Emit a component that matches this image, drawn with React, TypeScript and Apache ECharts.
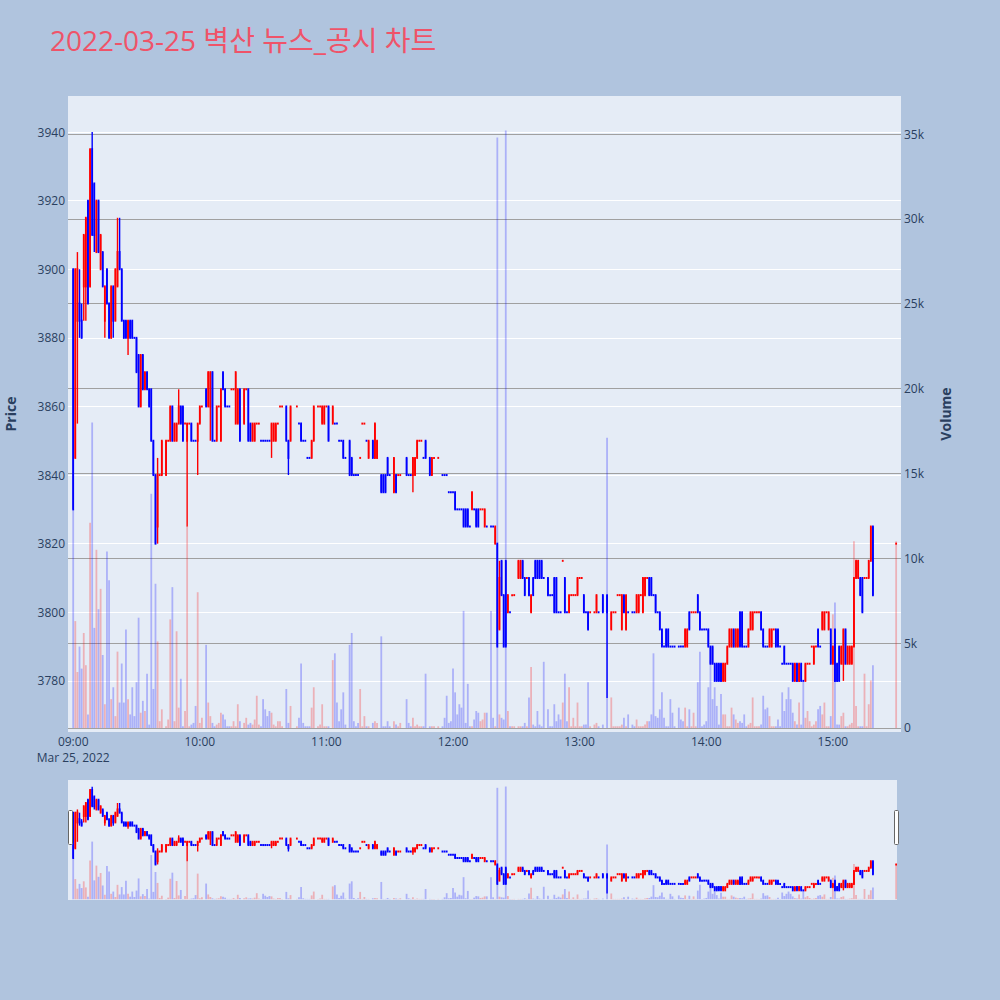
import React, { useEffect, useRef } from 'react';
import * as echarts from 'echarts';

// [open, close, low, high, volume] per minute; null = no trade in that minute
type Bar = [number, number, number, number, number] | null;

const bars0900: Bar[] = [
  [3900,3830,3830,3900,12900],[3845,3900,3845,3900,6300],[3885,3900,3855,3905,3300],[3890,3885,3880,3900,4800],
  [3885,3880,3880,3890,3500],[3895,3910,3885,3910,5600],[3895,3915,3885,3915,3700],[3920,3890,3890,3920,800],
  [3895,3935,3895,3935,12100],[3935,3910,3910,3940,18000],[3925,3910,3905,3925,5900],[3905,3920,3905,3920,10500],
  [3920,3905,3905,3920,7000],[3900,3910,3900,3910,8200],[3905,3895,3895,3905,4300],[3885,3895,3880,3895,1400],
  [3900,3890,3890,3900,10400],[3890,3880,3880,3890,8700],[3880,3895,3880,3895,1700],[3895,3885,3880,3895,2400],
  [3885,3900,3885,3900,700],[3895,3905,3895,3915,4500],[3905,3900,3900,3915,1500],[3900,3885,3885,3900,3800],
  [3885,3880,3880,3885,1500],[3885,3880,3880,3885,5800],[3880,3885,3875,3885,1700],[3885,3880,3880,3885,800],
  [3885,3880,3880,3885,2400],[3880,3880,3880,3880,700],[3880,3870,3870,3880,2700],[3875,3860,3860,3875,6500],
  [3860,3875,3860,3875,900],[3875,3865,3865,3875,1600],[3865,3870,3865,3870,1000],[3870,3865,3865,3870,3200],
  [3865,3860,3860,3865,200],[3865,3850,3850,3865,13800],[3850,3840,3840,3850,2300],[3840,3820,3820,3840,8500],
  [3825,3840,3820,3845,5100],[3840,3840,3840,3840,400],[3840,3850,3840,3850,1100],null,
  [3840,3850,3840,3850,100],[3850,3850,3850,3850,500],[3850,3860,3850,3860,6400],[3860,3850,3850,3860,8300],
  [3850,3855,3850,3855,400],[3850,3855,3850,3855,5700],[3855,3860,3855,3865,1200],[3860,3855,3855,3860,2900],
  [3860,3850,3850,3860,100],[3855,3855,3855,3855,1000],[3850,3855,3825,3855,11900],[3855,3855,3855,3855,100],
  [3855,3850,3850,3855,200],[3850,3850,3850,3850,300],[3850,3850,3850,3850,1300],[3850,3855,3840,3855,8000],
];

const bars1000: Bar[] = [
  [3855,3860,3855,3860,300],[3860,3860,3860,3860,600],null,[3865,3860,3860,3865,4900],
  [3860,3870,3860,3870,1500],[3860,3870,3850,3870,700],[3870,3850,3850,3870,300],[3850,3850,3850,3850,100],
  [3850,3860,3850,3860,200],[3860,3860,3860,3860,300],[3850,3865,3850,3865,900],[3870,3865,3865,3870,800],
  [3865,3860,3860,3865,500],[3860,3860,3860,3860,100],[3860,3860,3860,3860,100],[3865,3865,3865,3865,100],
  [3865,3865,3865,3865,400],[3855,3870,3855,3870,100],[3855,3865,3855,3865,1400],[3865,3850,3850,3865,400],
  null,[3855,3865,3855,3865,300],[3865,3865,3865,3865,600],[3865,3850,3850,3865,200],
  [3855,3850,3850,3855,300],[3850,3855,3850,3855,200],[3850,3855,3850,3855,500],[3855,3855,3855,3855,1900],
  [3855,3855,3855,3855,200],[3850,3850,3850,3850,100],[3850,3850,3850,3850,1700],[3850,3850,3850,3850,1100],
  [3850,3850,3850,3850,700],[3850,3850,3850,3850,1000],[3850,3855,3845,3855,900],[3850,3855,3850,3855,200],
  [3850,3855,3850,3855,100],[3855,3855,3855,3855,400],[3860,3860,3860,3860,400],[3860,3860,3860,3860,100],
  null,[3860,3850,3850,3860,2300],[3850,3845,3840,3850,300],[3850,3860,3850,3860,1300],
  null,null,[3860,3860,3860,3860,100],[3855,3855,3855,3855,600],
  [3855,3850,3850,3855,3800],[3850,3850,3850,3850,300],[3850,3850,3850,3850,100],[3845,3845,3845,3845,100],
  [3845,3845,3845,3845,100],[3845,3850,3845,3850,1200],[3850,3860,3850,3860,2400],null,
  [3860,3860,3860,3860,100],[3860,3860,3860,3860,200],[3855,3860,3855,3860,1400],[3855,3860,3855,3860,100],
];

const bars1100: Bar[] = [
  [3860,3860,3860,3860,100],[3860,3850,3850,3860,100],null,[3855,3860,3855,3860,4000],
  [3855,3855,3855,3855,4400],[3855,3855,3855,3855,1500],[3850,3850,3850,3850,400],[3850,3850,3850,3850,1100],
  [3850,3845,3845,3850,2100],[3845,3845,3845,3845,200],null,[3850,3840,3840,3850,4900],
  [3845,3840,3840,3845,5600],[3840,3840,3840,3840,400],[3840,3840,3840,3840,100],[3840,3840,3840,3840,300],
  [3845,3845,3845,3845,2300],[3855,3855,3855,3855,100],[3855,3855,3855,3855,700],[3850,3850,3850,3850,100],
  [3845,3850,3845,3850,100],null,[3850,3845,3845,3850,300],[3845,3855,3845,3855,400],
  [3845,3850,3845,3850,300],null,[3840,3835,3835,3840,5400],[3840,3835,3835,3840,100],
  [3840,3835,3835,3840,100],[3845,3840,3840,3845,400],[3840,3840,3840,3840,100],null,
  [3835,3845,3835,3845,400],[3840,3835,3835,3840,200],[3840,3840,3840,3840,100],[3840,3840,3840,3840,300],
  null,null,[3845,3840,3840,3845,1700],[3840,3840,3840,3840,300],
  [3840,3840,3840,3840,100],[3840,3845,3835,3845,600],[3840,3845,3840,3845,100],[3845,3850,3845,3850,200],
  [3850,3850,3850,3850,100],[3850,3850,3850,3850,100],[3845,3845,3845,3845,100],[3850,3845,3845,3850,3200],
  null,[3845,3840,3840,3845,100],[3840,3845,3840,3845,100],[3845,3845,3845,3845,100],
  null,[3845,3845,3845,3845,100],null,[3840,3840,3840,3840,100],
  [3840,3840,3840,3840,600],[3840,3840,3840,3840,1900],[3835,3835,3835,3835,300],[3835,3835,3835,3835,400],
];

const bars1200: Bar[] = [
  [3835,3835,3835,3835,3500],[3835,3830,3830,3835,2100],[3830,3830,3830,3830,800],[3830,3830,3830,3830,1400],
  [3830,3830,3830,3830,1200],[3830,3825,3825,3830,6900],[3830,3825,3825,3830,300],[3830,3825,3825,3830,2600],
  [3825,3825,3825,3825,100],[3830,3835,3830,3835,100],[3830,3830,3830,3830,500],[3830,3825,3825,3830,1000],
  [3830,3825,3825,3830,900],[3830,3830,3830,3830,400],[3830,3830,3830,3830,500],[3825,3830,3825,3830,900],
  [3825,3825,3825,3825,900],null,[3825,3825,3825,3825,6900],[3825,3825,3825,3825,600],
  [3820,3825,3820,3825,100],[3820,3790,3790,3820,34800],[3795,3810,3795,3815,800],[3815,3805,3805,3815,600],
  [3805,3790,3790,3805,500],[3815,3790,3790,3815,35200],[3800,3805,3800,3805,1000],[3800,3800,3800,3800,100],
  [3805,3805,3805,3805,100],[3805,3805,3805,3805,100],null,[3810,3815,3810,3815,100],
  [3810,3815,3810,3815,100],[3815,3810,3810,3815,100],[3810,3805,3805,3810,300],[3810,3810,3810,3810,100],
  [3810,3805,3805,3810,1800],[3800,3805,3800,3805,3600],[3810,3805,3805,3810,200],[3815,3810,3810,3815,100],
  [3815,3810,3810,3815,1000],[3815,3810,3810,3815,200],[3815,3810,3810,3815,100],[3810,3810,3810,3810,3900],
  null,[3810,3805,3805,3810,1100],[3805,3805,3805,3805,100],[3805,3805,3805,3805,100],
  [3810,3800,3800,3810,1400],[3810,3800,3800,3810,400],[3800,3800,3800,3800,800],[3800,3800,3800,3800,500],
  [3815,3815,3815,3815,1500],[3810,3800,3800,3810,3200],[3800,3800,3800,3800,400],[3800,3805,3800,3805,2400],
  [3805,3805,3805,3805,100],[3805,3805,3805,3805,600],[3805,3805,3805,3805,100],[3805,3810,3805,3810,1500],
];

const bars1300: Bar[] = [
  [3810,3810,3810,3810,100],[3810,3810,3810,3810,100],[3805,3800,3800,3805,200],[3800,3800,3800,3800,200],
  [3800,3795,3795,3800,2700],[3800,3800,3800,3800,100],null,[3800,3800,3800,3800,200],
  [3800,3805,3800,3805,300],[3800,3800,3800,3800,100],null,[3805,3800,3800,3805,200],
  null,[3805,3800,3775,3805,17100],null,[3795,3800,3795,3800,1800],
  [3800,3800,3800,3800,100],[3800,3800,3800,3800,100],[3805,3805,3805,3805,100],[3805,3805,3805,3805,100],
  [3795,3805,3795,3805,200],[3805,3800,3800,3805,600],[3795,3805,3795,3805,100],[3800,3800,3800,3800,800],
  null,[3800,3800,3800,3800,200],[3800,3800,3800,3800,100],[3800,3805,3800,3805,500],
  [3800,3805,3800,3805,100],[3805,3805,3805,3805,100],[3800,3810,3800,3810,100],[3805,3810,3805,3810,200],
  [3810,3810,3810,3810,400],[3810,3805,3805,3810,400],[3810,3805,3805,3810,800],[3805,3805,3805,3805,4400],
  [3805,3800,3800,3805,700],[3800,3800,3800,3800,600],[3800,3795,3795,3800,1100],[3795,3790,3790,3795,2100],
  [3790,3790,3790,3790,600],[3795,3790,3790,3795,100],[3795,3790,3790,3795,100],[3790,3790,3790,3790,1700],
  [3790,3790,3790,3790,900],[3790,3790,3790,3790,100],null,[3790,3790,3790,3790,1200],
  [3790,3790,3790,3790,500],[3790,3790,3790,3790,400],[3790,3795,3790,3795,1200],[3790,3795,3790,3795,100],
  [3800,3795,3795,3800,1100],[3800,3800,3800,3800,100],[3800,3800,3800,3800,900],[3800,3800,3800,3800,100],
  [3805,3800,3800,3805,2700],[3800,3795,3795,3800,4500],[3795,3795,3795,3795,100],[3795,3795,3795,3795,200],
];

const bars1400: Bar[] = [
  [3795,3795,3795,3795,400],[3795,3790,3790,3795,2400],[3790,3785,3785,3790,4000],[3790,3785,3785,3790,1700],
  [3785,3780,3780,3785,2400],[3785,3780,3780,3785,1300],[3785,3780,3780,3785,200],[3785,3780,3780,3785,2000],
  [3780,3785,3780,3785,800],[3780,3785,3780,3785,800],[3785,3790,3785,3790,100],[3790,3795,3790,3795,100],
  [3790,3795,3790,3795,1200],[3795,3790,3790,3795,800],[3790,3795,3790,3795,500],[3790,3795,3790,3795,300],
  [3800,3790,3790,3800,400],[3800,3790,3790,3800,300],[3790,3790,3790,3790,800],[3790,3790,3790,3790,100],
  [3790,3795,3790,3795,200],[3795,3800,3795,3800,300],[3795,3800,3795,3800,1800],[3800,3800,3800,3800,100],
  [3800,3800,3800,3800,100],[3800,3800,3800,3800,100],[3800,3795,3795,3800,200],[3795,3790,3790,3795,1900],
  [3790,3790,3790,3790,1100],[3790,3790,3790,3790,1200],[3790,3795,3790,3795,700],[3790,3795,3790,3795,100],
  [3795,3795,3795,3795,100],[3795,3790,3790,3795,100],[3795,3790,3790,3795,500],[3790,3790,3790,3790,100],
  [3785,3785,3785,3785,2100],[3790,3785,3785,3790,1000],[3785,3785,3785,3785,1700],[3785,3785,3785,3785,2400],
  [3785,3785,3785,3785,1700],[3785,3780,3780,3785,900],[3780,3785,3780,3785,400],[3785,3780,3780,3785,200],
  [3780,3785,3780,3785,1500],[3785,3780,3780,3785,200],[3780,3780,3780,3780,2800],[3780,3785,3780,3785,600],
  [3785,3785,3785,3785,1000],[3785,3785,3785,3785,400],[3790,3790,3790,3790,100],[3785,3790,3785,3790,200],
  [3790,3790,3790,3790,400],[3795,3790,3790,3795,1100],[3790,3790,3790,3790,1300],[3795,3800,3795,3800,800],
  [3795,3800,3795,3800,1500],[3800,3800,3800,3800,100],[3795,3800,3795,3800,100],[3795,3785,3785,3795,700],
];

const bars1500: Bar[] = [
  [3785,3790,3785,3790,6700],[3795,3780,3780,3795,7400],[3785,3780,3780,3785,200],[3790,3780,3780,3790,200],
  [3785,3790,3785,3790,700],[3785,3795,3780,3795,900],[3795,3785,3785,3795,100],[3785,3790,3785,3790,100],
  [3785,3790,3785,3790,200],[3785,3790,3785,3790,300],[3790,3810,3790,3810,11000],[3810,3815,3810,3815,1300],
  [3810,3815,3810,3815,100],[3810,3805,3805,3810,100],[3810,3800,3800,3810,100],[3810,3810,3810,3810,3200],
  [3810,3810,3810,3810,100],[3810,3815,3810,3815,1400],[3815,3825,3815,3825,2800],[3825,3805,3805,3825,3700],
];

// closing auction at 15:30 (minute 390)
const closingMinute = 390;
const closingBar: [number, number, number, number, number] = [3820, 3820, 3820, 3820, 11000];

const hourBlocks: Bar[][] = [bars0900, bars1000, bars1100, bars1200, bars1300, bars1400, bars1500];

const priceRange = [3765.1, 3950.5];
const volumeRange = [-236, 37240];
const minuteRange = [-2.46, 392.3];

const UP = '#ff0000';
const DOWN = '#0000ff';
const UP_VOL = 'rgba(255,0,0,0.25)';
const DOWN_VOL = 'rgba(0,0,255,0.25)';
const FONT = '"Open Sans", "Noto Sans CJK KR", sans-serif';
const AXIS_COLOR = '#2a3f5f';

function buildRows() {
  const rows: { m: number; o: number; c: number; l: number; h: number; v: number }[] = [];
  hourBlocks.forEach((block, hi) => {
    block.forEach((b, i) => {
      if (b) rows.push({ m: hi * 60 + i, o: b[0], c: b[1], l: b[2], h: b[3], v: b[4] });
    });
  });
  rows.push({ m: closingMinute, o: closingBar[0], c: closingBar[1], l: closingBar[2], h: closingBar[3], v: closingBar[4] });
  let prevClose: number | null = null;
  let lastUp = true;
  return rows.map((r) => {
    let up: boolean;
    if (r.o !== r.c) up = r.c > r.o;
    else if (prevClose !== null && r.c !== prevClose) up = r.c > prevClose;
    else up = lastUp;
    prevClose = r.c;
    lastUp = up;
    return { ...r, up };
  });
}

function fmtTime(v: number) {
  const hh = 9 + Math.floor(v / 60);
  const mm = v % 60;
  return String(hh).padStart(2, '0') + ':' + String(mm).padStart(2, '0');
}

function buildOption() {
  const rows = buildRows();
  const candleData = rows.map((r) => [r.m, r.o, r.c, r.l, r.h, r.up ? 1 : 0]);
  const volData = rows.map((r) => ({ value: [r.m, r.v], itemStyle: { color: r.up ? UP_VOL : DOWN_VOL } }));

  const renderCandle = (_params: any, api: any) => {
    const m = api.value(0);
    const o = api.value(1);
    const c = api.value(2);
    const l = api.value(3);
    const h = api.value(4);
    const col = api.value(5) === 1 ? UP : DOWN;
    const pO = api.coord([m, o]);
    const pC = api.coord([m, c]);
    const pL = api.coord([m, l]);
    const pH = api.coord([m, h]);
    const x = pO[0];
    const top = Math.min(pO[1], pC[1]);
    const bot = Math.max(pO[1], pC[1]);
    const bw = 1.8;
    const ww = 1.4;
    return {
      type: 'group',
      children: [
        { type: 'rect', shape: { x: x - ww / 2, y: pH[1], width: ww, height: Math.max(pL[1] - pH[1], 0) }, style: { fill: col } },
        { type: 'rect', shape: { x: x - bw / 2, y: top - 1, width: bw, height: bot - top + 2 }, style: { fill: col } },
      ],
    };
  };

  const candleSeries = (xi: number, yi: number) => ({
    type: 'custom',
    xAxisIndex: xi,
    yAxisIndex: yi,
    data: candleData,
    encode: { x: 0, y: [1, 2, 3, 4] },
    renderItem: renderCandle,
    clip: true,
    silent: true,
    z: 3,
  });
  const volSeries = (xi: number, yi: number) => ({
    type: 'bar',
    xAxisIndex: xi,
    yAxisIndex: yi,
    data: volData,
    barWidth: 1.8,
    silent: true,
    z: 2,
  });

  return {
    animation: false,
    backgroundColor: '#b0c4de',
    grid: [
      { left: 68, top: 96, width: 833, height: 636, show: true, backgroundColor: '#e5ecf6', borderWidth: 0 },
      { left: 68, top: 780, width: 829, height: 120, show: true, backgroundColor: '#e5ecf6', borderWidth: 0 },
    ],
    xAxis: [
      {
        type: 'value',
        gridIndex: 0,
        min: minuteRange[0],
        max: minuteRange[1],
        minInterval: 60,
        maxInterval: 60,
        axisLine: { show: false },
        axisTick: { show: false },
        splitLine: { show: false },
        axisLabel: {
          showMinLabel: false,
          showMaxLabel: false,
          color: AXIS_COLOR,
          fontSize: 12,
          fontFamily: FONT,
          margin: 1,
          lineHeight: 16,
          formatter: (v: number) => {
            if (v < 0 || Math.abs(v % 60) > 1e-6) return '';
            return v === 0 ? '09:00\nMar 25, 2022' : fmtTime(v);
          },
        },
      },
      { type: 'value', gridIndex: 1, min: minuteRange[0], max: minuteRange[1] - 1.9, show: false },
    ],
    yAxis: [
      {
        type: 'value',
        gridIndex: 0,
        position: 'left',
        min: priceRange[0],
        max: priceRange[1],
        minInterval: 20,
        maxInterval: 20,
        axisLine: { show: false },
        axisTick: { show: false },
        splitLine: { show: true, showMinLine: false, showMaxLine: false, lineStyle: { color: '#ffffff', width: 1 } },
        axisLabel: {
          showMinLabel: false,
          showMaxLabel: false,
          color: AXIS_COLOR,
          fontSize: 12,
          fontFamily: FONT,
          margin: 3,
          formatter: (v: number) => (Math.abs(v % 20) > 1e-6 ? '' : String(v)),
        },
      },
      {
        type: 'value',
        gridIndex: 0,
        position: 'right',
        min: volumeRange[0],
        max: volumeRange[1],
        minInterval: 5000,
        maxInterval: 5000,
        axisLine: { show: false },
        axisTick: { show: false },
        splitLine: { show: true, showMinLine: false, showMaxLine: false, lineStyle: { color: '#a0a0a0', width: 1 } },
        axisLabel: {
          showMinLabel: false,
          showMaxLabel: false,
          color: AXIS_COLOR,
          fontSize: 12,
          fontFamily: FONT,
          margin: 3,
          formatter: (v: number) => {
            if (v < 0 || v > 35000 || Math.abs(v % 5000) > 1e-6) return '';
            return v === 0 ? '0' : v / 1000 + 'k';
          },
        },
      },
      { type: 'value', gridIndex: 1, min: priceRange[0], max: priceRange[1], show: false },
      { type: 'value', gridIndex: 1, min: volumeRange[0], max: volumeRange[1], show: false },
    ],
    series: [volSeries(0, 1), candleSeries(0, 0), volSeries(1, 3), candleSeries(1, 2)],
    graphic: [
      {
        type: 'text',
        left: 50,
        top: 26,
        style: { text: '2022-03-25 벽산 뉴스_공시 차트', fontSize: 28, fill: '#ef5369', fontFamily: FONT },
      },
      {
        type: 'text',
        x: 10,
        y: 414,
        rotation: Math.PI / 2,
        style: { text: 'Price', fontSize: 14, fontWeight: 'bold', fill: AXIS_COLOR, fontFamily: FONT, align: 'center', verticalAlign: 'middle' },
      },
      {
        type: 'text',
        x: 945,
        y: 414,
        rotation: Math.PI / 2,
        style: { text: 'Volume', fontSize: 14, fontWeight: 'bold', fill: AXIS_COLOR, fontFamily: FONT, align: 'center', verticalAlign: 'middle' },
      },
      {
        type: 'rect',
        shape: { x: 68.5, y: 810.5, width: 4, height: 34, r: 1 },
        style: { fill: '#ffffff', stroke: '#666666', lineWidth: 1 },
        z: 10,
      },
      {
        type: 'rect',
        shape: { x: 894.5, y: 810.5, width: 4, height: 34, r: 1 },
        style: { fill: '#ffffff', stroke: '#666666', lineWidth: 1 },
        z: 10,
      },
    ],
  };
}

export default function App() {
  const ref = useRef<HTMLDivElement>(null);
  useEffect(() => {
    document.body.style.margin = '0';
    const chart = echarts.init(ref.current as HTMLDivElement, undefined, { renderer: 'svg' });
    chart.setOption(buildOption() as any);
    return () => chart.dispose();
  }, []);
  return <div ref={ref} style={{ width: 1000, height: 1000 }} />;
}
